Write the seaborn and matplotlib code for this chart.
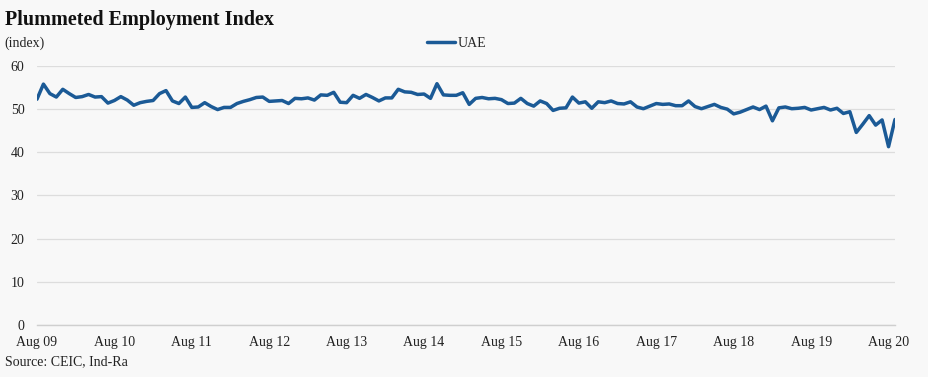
import numpy as np
import pandas as pd
import seaborn as sns
import matplotlib.pyplot as plt

# monthly UAE employment index, Aug 2009 .. Sep 2020
uae = [
    52.3, 55.8, 53.6, 52.8, 54.6, 53.6, 52.7, 52.9, 53.4, 52.8, 52.9, 51.4,
    52.0, 52.9, 52.1, 50.9, 51.5, 51.8, 52.0, 53.6, 54.3, 51.9, 51.3, 52.8,
    50.4, 50.5, 51.5, 50.6, 49.9, 50.4, 50.4, 51.3, 51.8, 52.2, 52.7, 52.8,
    51.8, 51.9, 52.0, 51.3, 52.5, 52.4, 52.6, 52.1, 53.3, 53.2, 53.9, 51.6,
    51.5, 53.2, 52.5, 53.4, 52.7, 51.9, 52.6, 52.6, 54.6, 54.0, 53.9, 53.4,
    53.5, 52.5, 55.9, 53.3, 53.2, 53.2, 53.8, 51.1, 52.5, 52.7, 52.4, 52.5,
    52.2, 51.3, 51.4, 52.5, 51.3, 50.7, 51.9, 51.3, 49.7, 50.2, 50.3, 52.8,
    51.4, 51.7, 50.2, 51.7, 51.5, 51.9, 51.3, 51.2, 51.7, 50.5, 50.1, 50.7,
    51.3, 51.1, 51.2, 50.8, 50.8, 51.9, 50.6, 50.1, 50.6, 51.1, 50.4, 50.0,
    48.9, 49.3, 49.9, 50.5, 49.9, 50.7, 47.3, 50.3, 50.5, 50.1, 50.2, 50.4,
    49.8, 50.1, 50.4, 49.8, 50.2, 49.0, 49.4, 44.6, 46.5, 48.5, 46.3, 47.5,
    41.3, 47.6,
]
tick_labels = ["Aug 09", "Aug 10", "Aug 11", "Aug 12", "Aug 13", "Aug 14",
               "Aug 15", "Aug 16", "Aug 17", "Aug 18", "Aug 19", "Aug 20"]
y_ticks = [0, 10, 20, 30, 40, 50, 60]

df = pd.DataFrame({"mes": np.arange(len(uae)), "UAE": uae})

sns.set_theme(style="white")
plt.rcParams["font.family"] = ["Liberation Serif", "DejaVu Serif"]

bg = "#f8f8f8"
fig = plt.figure(figsize=(9.29, 3.77), dpi=100, facecolor=bg)
ax = fig.add_axes([0.0398, 0.138, 0.9236, 0.687])
ax.set_facecolor(bg)

sns.lineplot(data=df, x="mes", y="UAE", ax=ax, color="#1b5a96", linewidth=2.5, label="UAE")

ax.set_xlim(0, len(uae) - 1)
ax.set_ylim(0, 60)
ax.set_yticks(y_ticks)
ax.set_xticks(np.arange(0, len(uae), 12))
ax.set_xticklabels(tick_labels)
ax.grid(axis="y", color="#dddddd", linewidth=0.9)
ax.set_axisbelow(True)
for s in ["left", "right", "top"]:
    ax.spines[s].set_visible(False)
ax.spines["bottom"].set_color("#cfcfcf")
ax.spines["bottom"].set_linewidth(1)
ax.tick_params(axis="x", direction="in", length=3, colors="#cfcfcf", labelcolor="#222222",
               labelsize=10, pad=8)
ax.tick_params(axis="y", length=0, labelsize=10, pad=9, labelcolor="#222222")
ax.set_xlabel("")
ax.set_ylabel("")

ax.get_legend().remove()
h, l = ax.get_legend_handles_labels()
fig.legend(h, l, loc="center", bbox_to_anchor=(0.492, 0.884), frameon=False,
           fontsize=10, handlelength=2.0, handletextpad=0.2)

fig.text(0.005, 0.947, "Plummeted Employment Index", fontsize=14.5, fontweight="bold", va="center", color="#111111")
fig.text(0.005, 0.884, "(index)", fontsize=10, va="center", color="#222222")
fig.text(0.005, 0.04, "Source: CEIC, Ind-Ra", fontsize=10, va="center", color="#222222")

plt.savefig("out.png", dpi=100, facecolor=bg)
